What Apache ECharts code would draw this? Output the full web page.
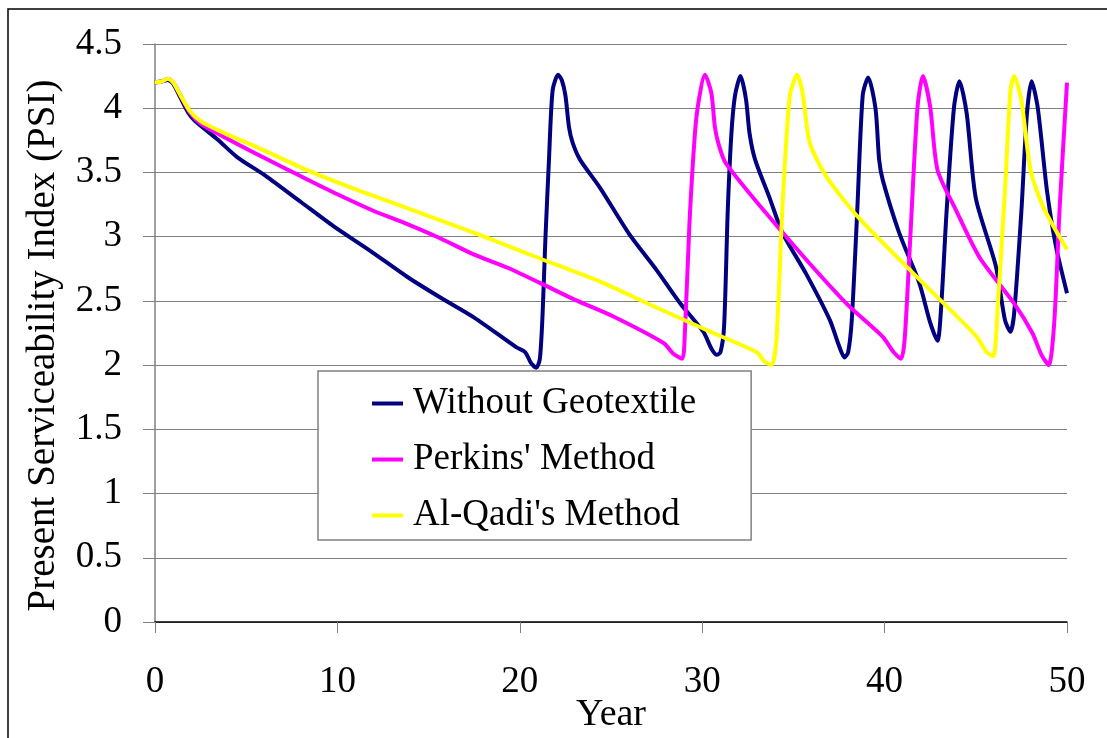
<!DOCTYPE html>
<html>
<head>
<meta charset="utf-8">
<script src="https://cdn.jsdelivr.net/npm/echarts@6/dist/echarts.min.js"></script>
<style>
  html, body { margin: 0; padding: 0; background: #fff; }
  #chart { width: 1107px; height: 738px; }
</style>
</head>
<body>
<div id="chart"></div>
<script>
var seriesNames = ['Without Geotextile', "Perkins' Method", "Al-Qadi's Method"];
var seriesColors = ['#000080', '#ff00ff', '#ffff00'];
var xTicks = [0, 10, 20, 30, 40, 50];
var yTicks = [0, 0.5, 1, 1.5, 2, 2.5, 3, 3.5, 4, 4.5];

// Without Geotextile
var noGeoYears = [0, 0.4, 0.7, 1.0, 1.4, 1.8, 2.2, 3.4, 4.5, 6.1, 8, 9.8, 11.8, 13.8, 15.6, 17.5, 19.8, 20.3, 20.6, 20.9, 21.1, 21.25, 21.4, 21.6, 21.8, 22.1, 22.3, 22.5, 22.7, 22.9, 23.3, 24.4, 26.0, 27.5, 28.8, 30.06, 30.5, 30.8, 31.0, 31.2, 31.4, 31.6, 31.8, 32.1, 32.4, 32.6, 32.9, 33.7, 34.4, 35.7, 37.0, 37.5, 37.8, 38.0, 38.2, 38.5, 38.8, 39.1, 39.5, 39.7, 39.9, 40.8, 41.9, 42.5, 42.9, 43.1, 43.4, 43.8, 44.1, 44.5, 45.0, 46.1, 46.6, 46.9, 47.1, 47.5, 47.8, 48.06, 48.4, 48.9, 49.4, 50];
var noGeoPsi = [4.2, 4.21, 4.22, 4.19, 4.08, 3.97, 3.9, 3.76, 3.62, 3.47, 3.27, 3.08, 2.89, 2.69, 2.53, 2.37, 2.14, 2.1, 2.02, 1.98, 2.05, 2.4, 2.97, 3.6, 4.14, 4.26, 4.22, 4.1, 3.85, 3.73, 3.6, 3.38, 3.02, 2.74, 2.48, 2.26, 2.13, 2.08, 2.1, 2.3, 3.2, 3.8, 4.1, 4.25, 4.07, 3.8, 3.6, 3.3, 3.03, 2.71, 2.35, 2.15, 2.06, 2.1, 2.35, 3.2, 4.1, 4.24, 4.0, 3.6, 3.44, 3.03, 2.64, 2.33, 2.19, 2.45, 3.2, 4.0, 4.21, 3.96, 3.3, 2.77, 2.35, 2.26, 2.4, 3.2, 3.95, 4.21, 4.0, 3.36, 2.92, 2.56];

// Perkins' Method
var perkinsYears = [0, 0.4, 0.7, 1.0, 1.4, 1.9, 2.5, 3.6, 5.9, 8, 10, 12, 13.8, 15.6, 17.5, 19.3, 21.1, 23, 25.1, 27.9, 28.4, 28.9, 29.05, 29.3, 29.6, 29.8, 30.15, 30.5, 30.7, 30.9, 31.3, 34.3, 37.9, 39.9, 40.5, 40.9, 41.1, 41.4, 41.8, 42.1, 42.5, 42.9, 43.9, 45.2, 47.1, 48.1, 48.6, 49.0, 49.3, 49.6, 50];
var perkinsPsi = [4.2, 4.21, 4.23, 4.2, 4.1, 3.97, 3.88, 3.79, 3.62, 3.47, 3.33, 3.2, 3.1, 2.99, 2.86, 2.76, 2.64, 2.51, 2.38, 2.17, 2.09, 2.05, 2.25, 3.1, 3.8, 4.05, 4.26, 4.12, 3.85, 3.72, 3.57, 3.05, 2.48, 2.22, 2.1, 2.05, 2.2, 2.97, 4.0, 4.25, 4.01, 3.52, 3.21, 2.84, 2.48, 2.25, 2.08, 2.0, 2.33, 3.23, 4.2];

// Al-Qadi's Method
var alQadiYears = [0, 0.4, 0.7, 1.0, 1.4, 1.9, 2.5, 3.6, 6, 8.3, 10.6, 12.9, 15.2, 17.5, 19.3, 21.1, 24.4, 27, 30.6, 33, 33.4, 33.8, 34.07, 34.4, 34.8, 35.2, 35.5, 35.9, 36.8, 38.5, 41.6, 45, 45.6, 45.96, 46.2, 46.6, 46.9, 47.1, 47.5, 48, 48.7, 50];
var alQadiPsi = [4.2, 4.21, 4.23, 4.2, 4.1, 3.98, 3.9, 3.82, 3.67, 3.52, 3.39, 3.27, 3.15, 3.03, 2.93, 2.83, 2.65, 2.48, 2.25, 2.1, 2.03, 2.0, 2.2, 3.23, 4.09, 4.26, 4.12, 3.73, 3.47, 3.16, 2.71, 2.23, 2.1, 2.07, 2.45, 3.36, 4.14, 4.25, 4.06, 3.52, 3.23, 2.9];

function zip(xs, ys) {
  var out = [];
  for (var i = 0; i < xs.length; i++) out.push([xs[i], ys[i]]);
  return out;
}

var FONT = "'Liberation Serif', 'Times New Roman', serif";
var chart = echarts.init(document.getElementById('chart'), null, { renderer: 'canvas' });

var seriesData = [zip(noGeoYears, noGeoPsi), zip(perkinsYears, perkinsPsi), zip(alQadiYears, alQadiPsi)];
var series = seriesNames.map(function (name, i) {
  return {
    name: name,
    type: 'line',
    data: seriesData[i],
    showSymbol: false,
    smooth: 0.25,
    lineStyle: { color: seriesColors[i], width: 4 },
    itemStyle: { color: seriesColors[i] },
    emphasis: { disabled: true }
  };
});

var option = {
  animation: false,
  backgroundColor: '#fff',
  textStyle: { fontFamily: FONT },
  graphic: [{
    type: 'rect',
    shape: { x: 8, y: 9, width: 1200, height: 800 },
    style: { fill: 'none', stroke: '#000', lineWidth: 1.5 },
    silent: true
  }],
  grid: { left: 155, right: 40, top: 44, bottom: 116, containLabel: false, outerBoundsMode: 'none' },
  legend: {
    data: seriesNames,
    orient: 'vertical',
    left: 318,
    top: 371,
    backgroundColor: '#fff',
    borderColor: '#808080',
    borderWidth: 1.5,
    padding: [14, 55, 6, 54],
    itemGap: 19,
    itemWidth: 31,
    itemHeight: 4,
    icon: 'rect',
    textStyle: { fontFamily: FONT, fontSize: 37, lineHeight: 37, color: '#000', padding: [0, 0, 0, 5] }
  },
  xAxis: {
    type: 'value',
    min: xTicks[0],
    max: xTicks[xTicks.length - 1],
    interval: 10,
    name: 'Year',
    nameLocation: 'middle',
    nameGap: 74,
    nameMoveOverlap: false,
    nameTextStyle: { fontFamily: FONT, fontSize: 38, color: '#000' },
    axisLine: { show: true, lineStyle: { color: '#000', width: 1.5 } },
    axisTick: { show: true, length: 11, lineStyle: { color: '#808080', width: 1 } },
    axisLabel: { fontFamily: FONT, fontSize: 37, color: '#000', margin: 42 },
    splitLine: { show: false }
  },
  yAxis: {
    type: 'value',
    min: yTicks[0],
    max: yTicks[yTicks.length - 1],
    interval: 0.5,
    name: 'Present Serviceability Index (PSI)',
    nameLocation: 'middle',
    nameGap: 92,
    nameTextStyle: { fontFamily: FONT, fontSize: 39, color: '#000', padding: [0, 25, 0, 0] },
    axisLine: { show: true, lineStyle: { color: '#808080', width: 1.5 } },
    axisTick: { show: true, length: 12, lineStyle: { color: '#808080', width: 1 } },
    axisLabel: { fontFamily: FONT, fontSize: 37, color: '#000', margin: 33 },
    splitLine: { show: true, lineStyle: { color: '#808080', width: 1.2 } }
  },
  series: series
};
chart.setOption(option);
</script>
</body>
</html>
